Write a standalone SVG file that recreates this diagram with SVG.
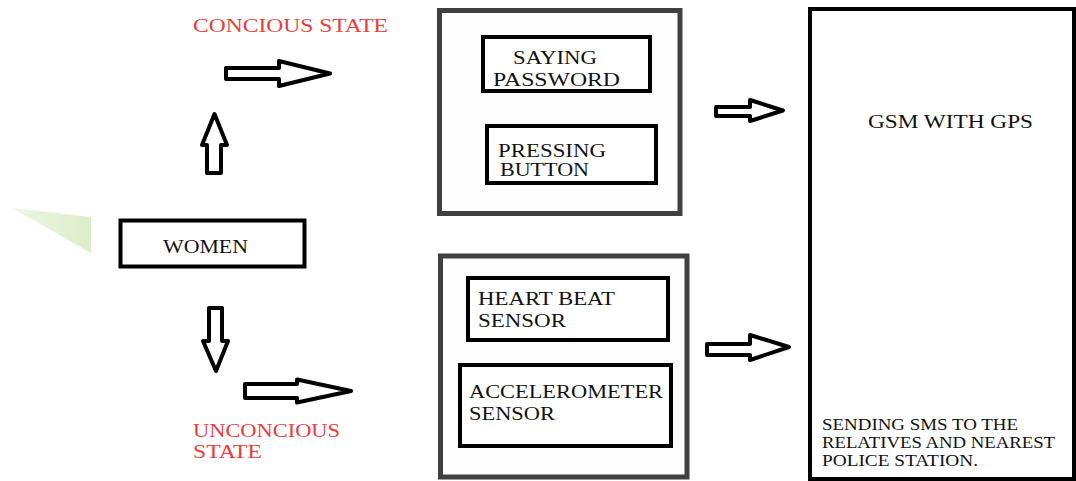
<svg xmlns="http://www.w3.org/2000/svg" width="1076" height="481" viewBox="0 0 1076 481">
<defs>
<linearGradient id="g" x1="0" y1="0" x2="1" y2="0">
<stop offset="0" stop-color="#eef6e6"/>
<stop offset="1" stop-color="#dcedc8"/>
</linearGradient>
</defs>
<style>
text{font-family:'Liberation Serif','DejaVu Serif',serif}
.t{font-size:18.5px;fill:#111}
.s{font-size:16px;fill:#111}
.r{font-size:18.5px;fill:#f03a3a}
.box{fill:#fff;stroke:#000;stroke-width:4}
.grp{fill:#fdfdfd;stroke:#404040;stroke-width:5}
.arr{fill:#fff;stroke:#000;stroke-width:4;stroke-linejoin:round}
</style>
<rect width="1076" height="481" fill="#fff"/>
<polygon points="12,208 91,217 91,253" fill="url(#g)"/>
<g id="labels">
<text class="r" x="193" y="32" textLength="195" lengthAdjust="spacingAndGlyphs">CONCIOUS STATE</text>
<text class="r" x="193" y="437" textLength="147" lengthAdjust="spacingAndGlyphs">UNCONCIOUS</text>
<text class="r" x="193" y="458" textLength="69" lengthAdjust="spacingAndGlyphs">STATE</text>
</g>
<g id="women">
<rect class="box" x="120.5" y="220.5" width="184" height="46" stroke-width="5"/>
<text class="t" x="163" y="253" textLength="85" lengthAdjust="spacingAndGlyphs">WOMEN</text>
</g>
<g id="conscious-group">
<rect class="grp" x="439.5" y="10.5" width="240.5" height="203"/>
</g>
<g id="saying-password">
<rect class="box" x="483" y="37" width="167" height="54"/>
<text class="t" x="513" y="64" textLength="84" lengthAdjust="spacingAndGlyphs">SAYING</text>
<text class="t" x="493" y="86" textLength="127" lengthAdjust="spacingAndGlyphs">PASSWORD</text>
</g>
<g id="pressing-button">
<rect class="box" x="487" y="126" width="169" height="57"/>
<text class="t" x="498" y="157" textLength="108" lengthAdjust="spacingAndGlyphs">PRESSING</text>
<text class="t" x="500" y="176" textLength="89" lengthAdjust="spacingAndGlyphs">BUTTON</text>
</g>
<g id="unconscious-group">
<rect class="grp" x="440.5" y="256" width="246.5" height="221"/>
</g>
<g id="heart-beat">
<rect class="box" x="468" y="278" width="200" height="62"/>
<text class="t" x="478" y="305" textLength="137" lengthAdjust="spacingAndGlyphs">HEART BEAT</text>
<text class="t" x="478" y="327" textLength="88" lengthAdjust="spacingAndGlyphs">SENSOR</text>
</g>
<g id="accelerometer">
<rect class="box" x="460" y="365" width="211" height="81"/>
<text class="t" x="469" y="398" textLength="194" lengthAdjust="spacingAndGlyphs">ACCELEROMETER</text>
<text class="t" x="469" y="420" textLength="86" lengthAdjust="spacingAndGlyphs">SENSOR</text>
</g>
<g id="gsm">
<rect class="box" x="810" y="9" width="264" height="470"/>
<text class="t" x="868" y="128" textLength="165" lengthAdjust="spacingAndGlyphs">GSM WITH GPS</text>
<text class="s" x="822" y="430" textLength="196" lengthAdjust="spacingAndGlyphs">SENDING SMS TO THE</text>
<text class="s" x="822" y="448" textLength="233" lengthAdjust="spacingAndGlyphs">RELATIVES AND NEAREST</text>
<text class="s" x="822" y="466" textLength="156" lengthAdjust="spacingAndGlyphs">POLICE STATION.</text>
</g>
<g id="connectors">
<polygon class="arr" points="226,68 279,68 279,61 330,73.5 279,86 279,79 226,79"/>
<polygon class="arr" points="207,173 207,145 202,145 214.5,114 227,145 221,145 221,173"/>
<polygon class="arr" points="209,308 222,308 222,341 228,341 216,371 203,341 209,341"/>
<polygon class="arr" points="245,384 297,384 297,379.5 351,391 297,402.5 297,398 245,398"/>
<polygon class="arr" points="716,107 750,107 750,100 783,110.5 750,121 750,116 716,116"/>
<polygon class="arr" points="707,344 750,344 750,335 789,347 750,360 750,355 707,355"/>
</g>
</svg>
